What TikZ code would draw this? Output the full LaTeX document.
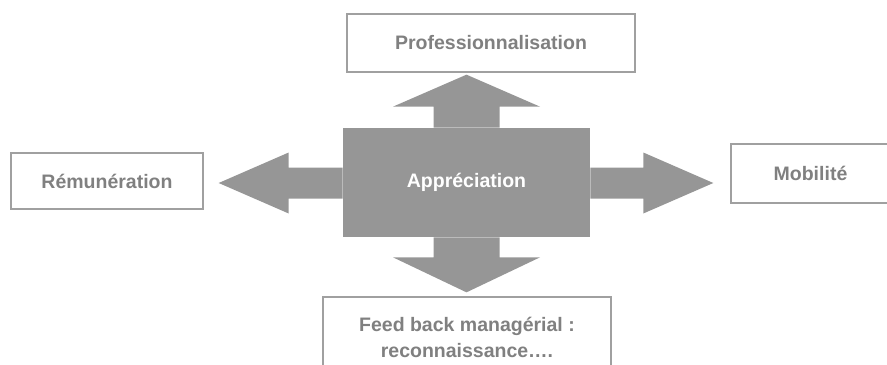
\documentclass[tikz,border=0pt]{standalone}
\usepackage{fontspec}
\setmainfont{Liberation Sans}
\usepackage{tikz}

\definecolor{arrowgray}{RGB}{150,150,150}
\definecolor{textgray}{RGB}{128,128,128}
\definecolor{framegray}{RGB}{160,160,160}

\begin{document}
\begin{tikzpicture}[
				x=0.02cm, y=-0.02cm,
				every node/.style={
					font=\fontsize{11.1}{14.8}\selectfont\bfseries,
					inner sep=0pt
				},
				box/.style={
					draw=framegray,
					line width=1.1pt,
					fill=white,
					text=textgray,
					align=center
				}
				]
				% Page
				\clip (0,0) rectangle (887,365);
				
				% Centre
				\node[fill=arrowgray, text=white, minimum width=4.94cm, minimum height=2.18cm] (appr) at (466.5,182.5) {Appréciation};
				
				% Boxes
				\node[box, minimum width=5.76cm, minimum height=1.16cm] (prof) at (491,43) {Professionnalisation};
				\node[box, minimum width=3.84cm, minimum height=1.12cm] (remu) at (107,181) {Rémunération};
				\node[box, minimum width=3.18cm, minimum height=1.18cm] (mob) at (810.5,173.5) {Mobilité};
				\node[box, minimum width=5.76cm, minimum height=1.6cm] (feed) at (467,337) {Feed back managérial :\\reconnaissance….};
				
				% Arrows
				\fill[arrowgray] (appr.north) ++(-33,0) -- ++(0,-21) -- ++(-40.5,0) -- ++(73.5,-32) -- ++(73.5,32) -- ++(-40.5,0) -- ++(0,21) -- cycle;
				\fill[arrowgray] (appr.south) ++(-33,0) -- ++(0,20) -- ++(-40.5,0) -- ++(73.5,35) -- ++(73.5,-35) -- ++(-40.5,0) -- ++(0,-20) -- cycle;
				\fill[arrowgray] (appr.west) ++(0,-15) -- ++(-54,0) -- ++(0,-15) -- ++(-70,30.5) -- ++(70,30.5) -- ++(0,-15) -- ++(54,0) -- cycle;
				\fill[arrowgray] (appr.east) ++(0,-15) -- ++(53,0) -- ++(0,-15) -- ++(70,30.5) -- ++(-70,30.5) -- ++(0,-15) -- ++(-53,0) -- cycle;
			\end{tikzpicture}
\end{document}
